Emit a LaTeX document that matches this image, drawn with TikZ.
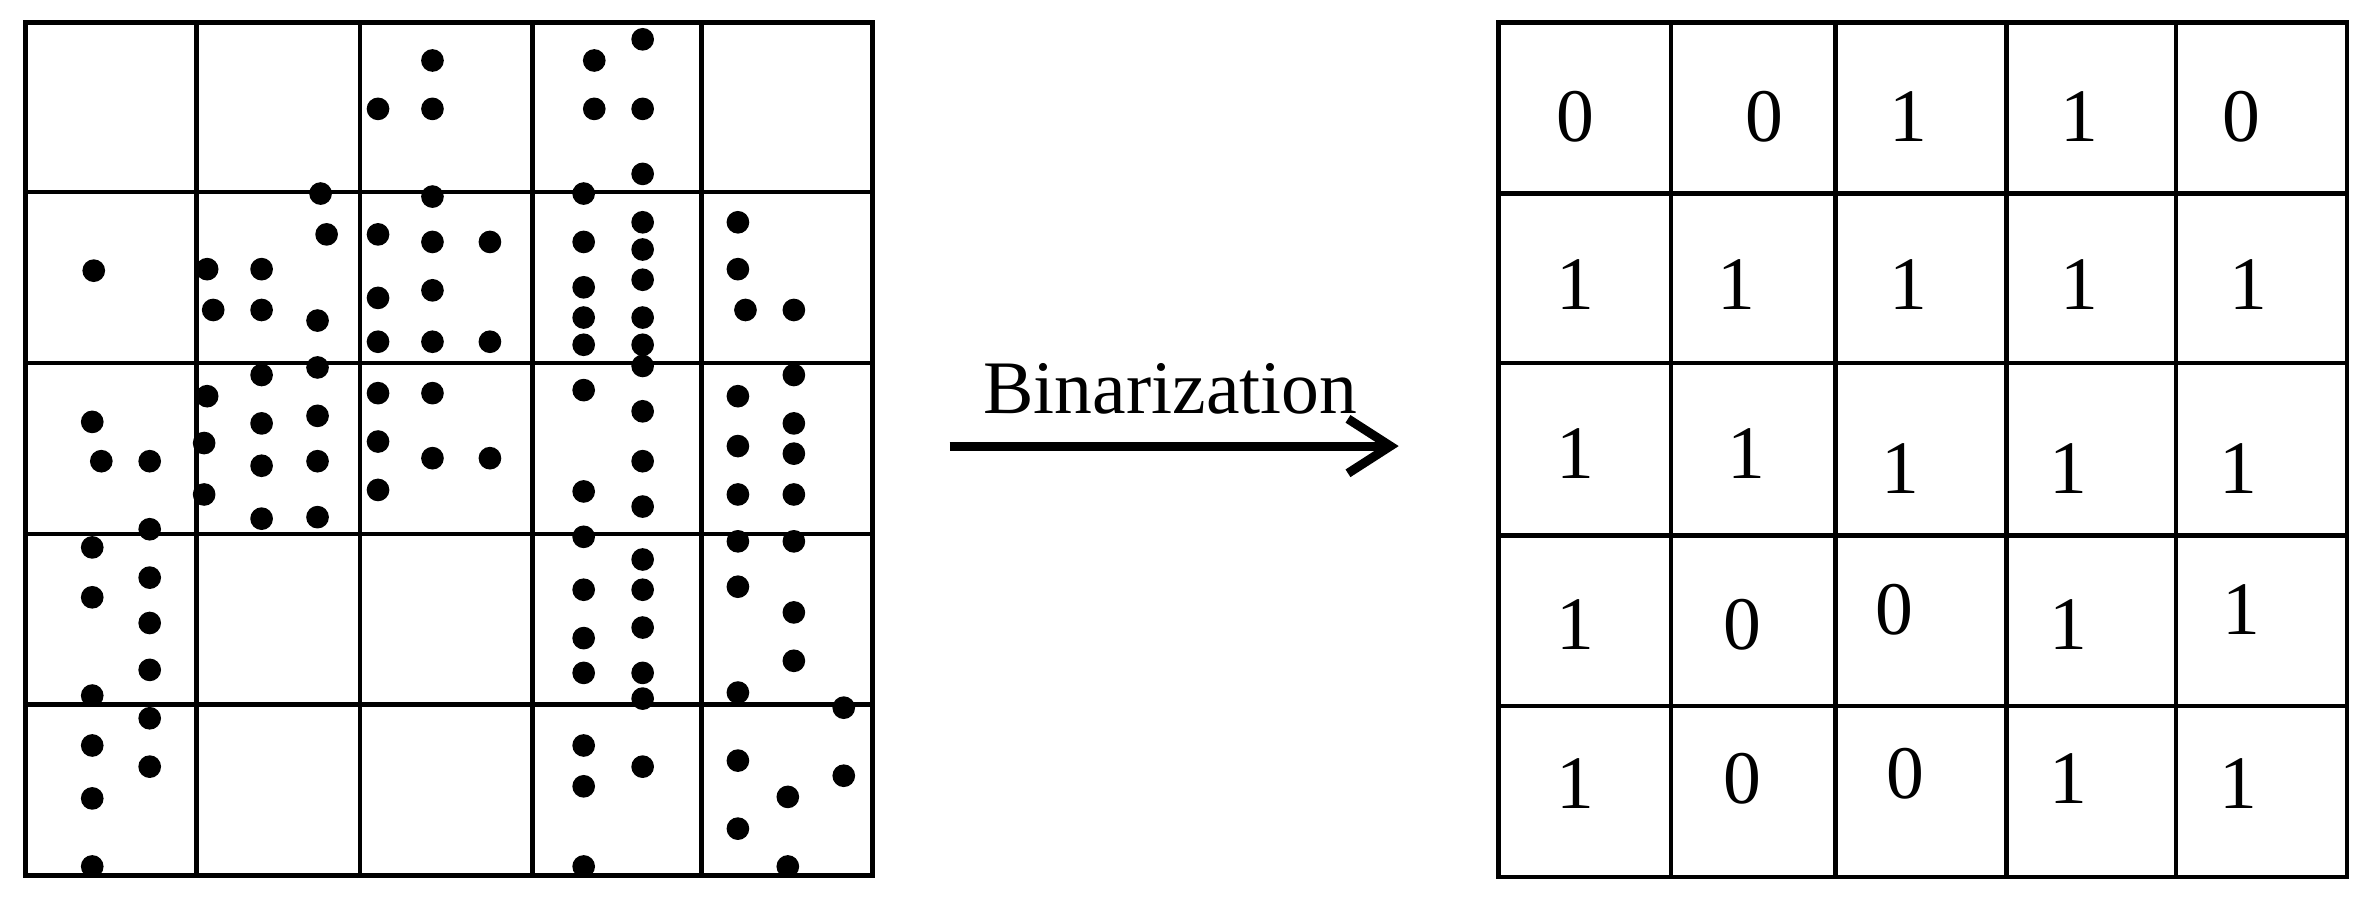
\documentclass[tikz,border=0pt]{standalone}
\usepackage{fontspec}
\setmainfont{Liberation Serif}
\usetikzlibrary{arrows.meta}
\begin{document}
\begin{tikzpicture}[
    x=1pt,
    y=-1pt,
    every node/.style={
      inner sep=0pt,
      font=\fontsize{50}{50}\selectfont
    },
    dot/.style={circle, fill=black, minimum size=15pt}
  ]
    \useasboundingbox (0,0) rectangle (1568,594);
    % left grid
    \draw[line width=3pt] (17,15) rectangle (577,579);
    \foreach \x in {130,238,352,464} \draw[line width=3pt] (\x,15) -- (\x,579);
    \foreach \y in {127,240,353,466} \draw[line width=3pt] (17,\y) -- (577,\y);
    % dots
    \foreach \p [count=\i] in {
      (286,40),(250,72),(286,72),(393,40),(425,26),(393,72),(425,72),(425,115),
      (212,128),(216,155),(250,155),(286,130),(286,160),(324,160),(386,128),
      (386,160),(425,147),(425,165),(62,179),(137,178),(173,178),(141,205),(173,205),
      (210,212),(250,197),(286,192),(250,226),(286,226),(324,226),(386,190),(425,185),
      (386,210),(425,210),(386,228),(425,228),(488,147),(488,178),(493,205),(525,205),
      (210,243),(173,248),(137,262),(250,260),(286,260),(386,258),(425,242),(425,272),
      (61,279),(67,305),(99,305),(135,293),(173,280),(210,275),(173,308),(210,305),
      (250,292),(286,303),(324,303),(135,327),(173,343),(210,342),(250,324),(488,262),
      (525,248),(525,280),(488,295),(525,300),(488,327),(525,327),(425,305),(386,325),
      (425,335),(99,350),(61,362),(99,382),(61,395),(99,412),(99,443),(61,460),
      (386,355),(425,370),(386,390),(425,390),(386,422),(425,415),(386,445),(425,445),
      (425,462),(488,358),(525,358),(488,388),(525,405),(525,437),(488,458),(558,468),
      (99,475),(61,493),(99,507),(61,528),(61,573),(386,493),(425,507),(386,520),
      (386,573),(488,503),(521,527),(558,513),(488,548),(521,573)}
      \node[dot] (d\i) at \p {};
    % arrow
    \node (lbl) at (774,257) {Binarization};
    \coordinate (a1) at (628,295);
    \coordinate (a2) at (925,295);
    \draw[line width=6pt, -{Straight Barb[length=28pt,width=36pt]}] (a1) -- (a2);
    % right grid
    \draw[line width=3pt] (991,15) rectangle (1552,580);
    \foreach \x in {1105,1214,1327,1439} \draw[line width=3pt] (\x,15) -- (\x,580);
    \foreach \y in {128,240,354,467} \draw[line width=3pt] (991,\y) -- (1552,\y);
    % values
    \foreach \p/\v [count=\i] in {
      (1042,77)/0,(1167,77)/0,(1262,77)/1,(1375,77)/1,(1482,77)/0,
      (1042,188)/1,(1148,188)/1,(1262,188)/1,(1375,188)/1,(1487,188)/1,
      (1042,300)/1,(1155,300)/1,(1257,310)/1,(1368,310)/1,(1480,310)/1,
      (1042,413)/1,(1152,413)/0,(1253,403)/0,(1368,413)/1,(1482,403)/1,
      (1042,518)/1,(1152,515)/0,(1260,512)/0,(1368,515)/1,(1480,518)/1}
      \node (v\i) at \p {\v};
  \end{tikzpicture}
\end{document}
